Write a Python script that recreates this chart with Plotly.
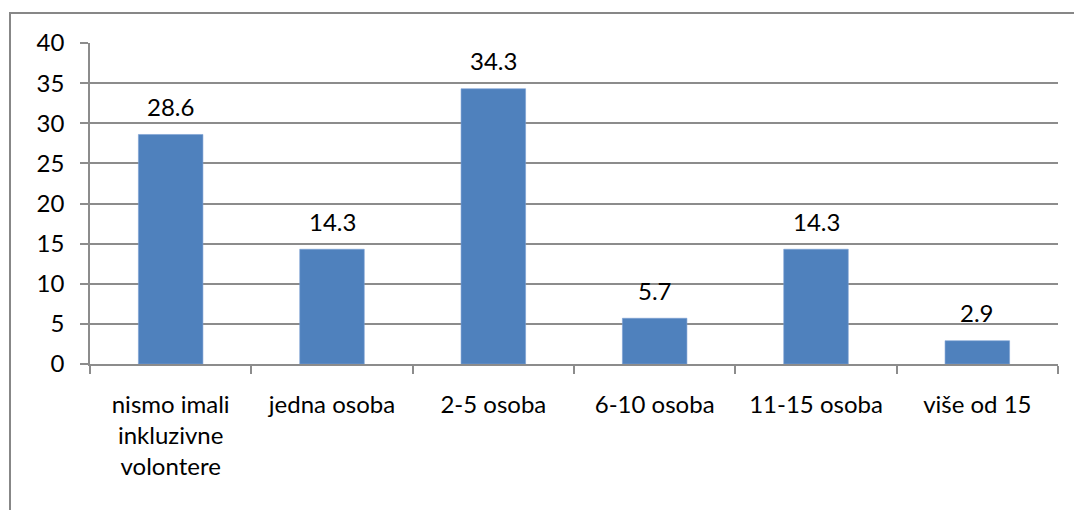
import plotly.graph_objects as go

categories = ["nismo imali<br>inkluzivne<br>volontere", "jedna osoba", "2-5 osoba",
              "6-10 osoba", "11-15 osoba", "više od 15"]
values = [28.6, 14.3, 34.3, 5.7, 14.3, 2.9]
y_ticks = [0, 5, 10, 15, 20, 25, 30, 35, 40]

W, H = 1074, 510
L, R, T, B = 90, 16, 43, 146
FONT = "Lato, Calibri, Carlito, sans-serif"
FS = 24
GRID = "#8c8c8c"
PH = H - T - B

fig = go.Figure()
fig.add_trace(go.Bar(
    x=categories, y=values,
    marker=dict(color="#4F81BD", line=dict(color="#7aa0d4", width=0.6)),
    hoverinfo="skip",
))

for c, v in zip(categories, values):
    fig.add_annotation(x=c, y=v, text=f"{v:.1f}", showarrow=False,
                       yanchor="middle", yshift=28,
                       font=dict(family=FONT, size=FS, color="#000000"))

# chart border (extends beyond the captured area on the right/bottom)
fig.add_shape(type="rect", xref="paper", yref="paper",
              x0=(10 - L) / (W - L - R), x1=1.2,
              y0=-1.0, y1=(H - B - 13) / PH,
              line=dict(color="#878787", width=2), layer="below")

fig.update_layout(
    width=W, height=H,
    margin=dict(l=L, r=R, t=T, b=B),
    paper_bgcolor="white", plot_bgcolor="white",
    bargap=0.6, showlegend=False,
    font=dict(family=FONT, size=FS, color="#000000"),
    xaxis=dict(
        showline=True, linecolor=GRID, linewidth=1.5,
        ticks="outside", ticklen=8, tickcolor=GRID, tickwidth=1.5,
        tickson="boundaries", showgrid=False,
        ticklabelstandoff=18,
        tickfont=dict(family=FONT, size=FS, color="#000000"),
    ),
    yaxis=dict(
        range=[0, 40], tickvals=y_ticks, ticktext=[str(t) for t in y_ticks],
        showline=True, linecolor=GRID, linewidth=1.5,
        ticks="outside", ticklen=8, tickcolor=GRID, tickwidth=1.5,
        showgrid=True, gridcolor=GRID, gridwidth=1.5,
        zeroline=False, ticklabelstandoff=11,
        tickfont=dict(family=FONT, size=FS, color="#000000"),
    ),
)

fig.write_html("out.html")
